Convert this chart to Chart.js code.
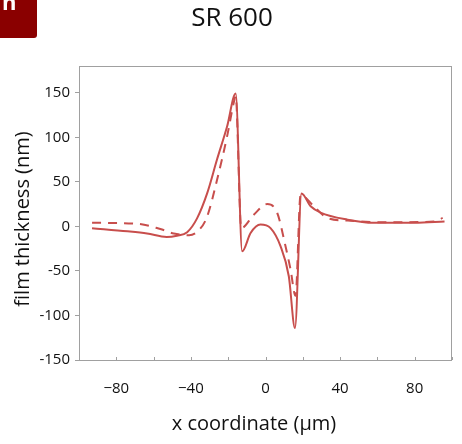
<!DOCTYPE html>
<html>
<head>
<meta charset="utf-8">
<script src="https://cdn.jsdelivr.net/npm/chart.js@4/dist/chart.umd.min.js"></script>
<style>
  html, body { margin: 0; padding: 0; background: #fff; }
  #wrap { width: 462px; height: 444px; position: relative; }
</style>
</head>
<body>
<div id="wrap"><canvas id="myChart"></canvas></div>
<script>
// values
const solidX = [-93, -74, -63.5, -53, -47.5, -42, -36.7, -31.3, -26, -20.6, -16, -12.5, -8, -2.7, 2.7, 8, 12.5, 15.8, 19.3, 24.2, 29.5, 44, 58, 80, 96];
const solidY = [-2, -5.5, -8, -12, -10.5, -6.5, 9, 37, 75, 112, 149, -28, -7.5, 2, -2, -22, -56, -114, 37, 22.5, 15.5, 7.5, 4, 4, 5.5];
const dashX = [-93, -69, -56.4, -49.2, -41, -35.8, -31.3, -26, -20.6, -17, -16, -13, -6.3, 0.9, 6.3, 10.7, 13.4, 16.1, 18.8, 26, 33, 44, 67, 90.4, 95];
const dashY = [4, 3, -3, -8, -10, -4.5, 11, 52, 101, 139, 146, -2, 13, 25, 15, -22, -48, -78, 35, 22.5, 9.5, 6.5, 4.5, 5.5, 9.5];
const xTicks = [-80, -40, 0, 40, 80];
const yTicks = [-150, -100, -50, 0, 50, 100, 150];

const RED = '#c84e4c';
const FONT = '"Open Sans"';
const toPts = (xs, ys) => xs.map((x, i) => ({ x: x, y: ys[i] }));

// box, inner x ticks, titles and panel tag
const decor = {
  id: 'decor',
  afterDraw(chart) {
    const ctx = chart.ctx, a = chart.chartArea;
    const xs = chart.scales.x;
    ctx.save();
    ctx.strokeStyle = '#a0a0a0';
    ctx.lineWidth = 1;
    ctx.strokeRect(a.left + 0.5, a.top + 0.5, a.right - a.left - 1, a.bottom - a.top);
    for (let v = -100; v <= 100; v += 20) {
      const px = Math.round(xs.getPixelForValue(v)) + 0.5;
      ctx.beginPath();
      ctx.moveTo(px, a.bottom);
      ctx.lineTo(px, a.bottom - 3);
      ctx.stroke();
    }
    ctx.fillStyle = '#111';
    ctx.textAlign = 'center';
    ctx.textBaseline = 'middle';
    // title
    ctx.font = '26px ' + FONT;
    ctx.fillText('SR 600', 232, 19);
    // axis titles
    ctx.font = '20px ' + FONT;
    ctx.fillText('x coordinate (\u00b5m)', 254, 424);
    ctx.translate(23, 219);
    ctx.rotate(-Math.PI / 2);
    ctx.fillText('film thickness (nm)', 0, 0);
    ctx.setTransform(1, 0, 0, 1, 0, 0);
    // panel tag
    ctx.fillStyle = '#8a0000';
    ctx.beginPath();
    ctx.moveTo(0, 0);
    ctx.lineTo(37, 0);
    ctx.lineTo(37, 35);
    ctx.quadraticCurveTo(37, 38, 34, 38);
    ctx.lineTo(0, 38);
    ctx.closePath();
    ctx.fill();
    ctx.fillStyle = '#fff';
    ctx.font = 'bold 22px ' + FONT;
    ctx.textAlign = 'left';
    ctx.textBaseline = 'alphabetic';
    ctx.fillText('n', 2, 10);
    ctx.restore();
  }
};

new Chart(document.getElementById('myChart'), {
  type: 'scatter',
  data: {
    datasets: [{
      data: toPts(solidX, solidY),
      showLine: true,
      borderColor: RED,
      borderWidth: 2,
      pointRadius: 0,
      cubicInterpolationMode: 'monotone'
    }, {
      data: toPts(dashX, dashY),
      showLine: true,
      borderColor: RED,
      borderWidth: 2,
      borderDash: [9, 7],
      pointRadius: 0,
      cubicInterpolationMode: 'monotone'
    }]
  },
  options: {
    responsive: true,
    maintainAspectRatio: false,
    animation: false,
    layout: { padding: { top: 66, right: 10, left: 0, bottom: 0 } },
    plugins: { legend: { display: false }, tooltip: { enabled: false } },
    scales: {
      x: {
        min: -100, max: 100,
        afterBuildTicks: s => { s.ticks = xTicks.map(v => ({ value: v })); },
        grid: { display: false },
        border: { display: false },
        ticks: {
          color: '#111',
          font: { family: 'Open Sans', size: 15 },
          padding: 12,
          maxRotation: 0,
          callback: v => (v < 0 ? '\u2212' + Math.abs(v) : String(v))
        },
        afterFit: s => { s.height = 84; }
      },
      y: {
        min: -150, max: 180,
        afterBuildTicks: s => { s.ticks = yTicks.map(v => ({ value: v })); },
        grid: { drawOnChartArea: false, tickLength: 4, color: '#a0a0a0' },
        border: { display: false },
        ticks: {
          color: '#111',
          font: { family: 'Open Sans', size: 15 },
          padding: 5
        },
        afterFit: s => { s.width = 79; }
      }
    }
  },
  plugins: [decor]
});
</script>
</body>
</html>
